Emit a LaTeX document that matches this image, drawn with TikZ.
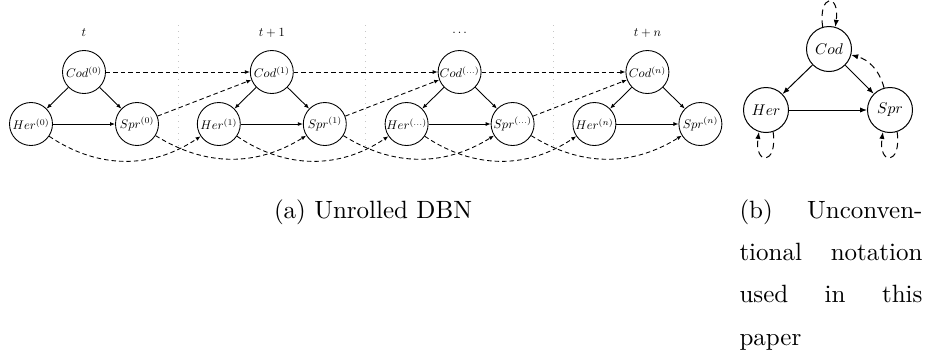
\documentclass[tikz,border=0pt]{standalone}
\usetikzlibrary{arrows.meta}
\usepackage{graphicx}

% scaled math labels for the two diagrams
\newcommand\tsa[1]{\scalebox{0.5}{$#1$}}
\newcommand\tsb[1]{\scalebox{0.62}{$#1$}}

\begin{document}
\begin{tikzpicture}[x=0.4pt,y=0.4pt,
  every node/.style={inner sep=0pt},
  var/.style={circle,draw,line width=0.35pt,minimum size=17.2pt,inner sep=0pt},
  varb/.style={circle,draw,line width=0.4pt,minimum size=18pt,inner sep=0pt},
  solida/.style={line width=0.35pt,-{Latex[length=2pt,width=1.6pt]}},
  dasha/.style={solida,dash pattern=on 1.8pt off 1.2pt},
  solidb/.style={line width=0.4pt,-{Latex[length=2.8pt,width=2.1pt]}},
  dashb/.style={solidb,dash pattern=on 2.6pt off 1.8pt},
  sep/.style={gray!45,line width=0.4pt,dotted},
  captext/.style={font=\fontsize{10}{16.9}\selectfont}
]
\useasboundingbox (0,0) rectangle (925,-355);

% ---- (a) unrolled network: one slice per time step
\foreach \k/\su/\ti in {0/0/t,1/1/t+1,2/\dots/\dots,3/n/t+n}{
  \pgfmathsetmacro\cx{84+187.8*\k}
  \node[var] (C\k) at (\cx,-72) {\tsa{Cod^{(\su)}}};
  \node[var] (H\k) at (\cx-53,-124) {\tsa{Her^{(\su)}}};
  \node[var] (S\k) at (\cx+53,-124) {\tsa{Spr^{(\su)}}};
  \node (L\k) at (\cx,-33) {\tsa{\ti}};
  \draw[solida] (C\k) -- (H\k);
  \draw[solida] (C\k) -- (S\k);
  \draw[solida] (H\k) -- (S\k);
}

% slice separators
\foreach \k in {0,1,2}{
  \pgfmathsetmacro\sx{178+187.8*\k}
  \draw[sep] (\sx,-25) -- (\sx,-148);
}

% temporal links between consecutive slices
\foreach \k/\n in {0/1,1/2,2/3}{
  \draw[dasha] (C\k) -- (C\n);
  \draw[dasha] (S\k) -- (C\n);
  \draw[dasha] (H\k) to[bend right=34] (H\n);
  \draw[dasha] (S\k) to[bend right=32] (S\n);
}

\node[captext,anchor=base] (capa) at (373,-218) {(a) Unrolled DBN};

% ---- (b) compact notation with self loops
\node[varb] (Cb) at (829,-49) {\tsb{Cod}};
\node[varb] (Hb) at (766,-110) {\tsb{Her}};
\node[varb] (Sb) at (890,-110) {\tsb{Spr}};
\draw[solidb] (Cb) -- (Hb);
\draw[solidb] (Cb) -- (Sb);
\draw[solidb] (Hb) -- (Sb);
\draw[dashb] (Sb) to[bend right=30] (Cb);
\draw[dashb] (Cb.106) .. controls +(98:34) and +(82:34) .. (Cb.74);
\draw[dashb] (Hb.-72) .. controls +(-82:34) and +(-98:34) .. (Hb.-108);
\draw[dashb] (Sb.-72) .. controls +(-82:34) and +(-98:34) .. (Sb.-108);

\node[captext,anchor=north west,text width=73.2pt,align=left] (capb) at (739,-199)
  {\parindent=0pt (b)\hfill Unconven-\\tional\hfill notation\\used\hfill in\hfill this\\paper};
\end{tikzpicture}
\end{document}
